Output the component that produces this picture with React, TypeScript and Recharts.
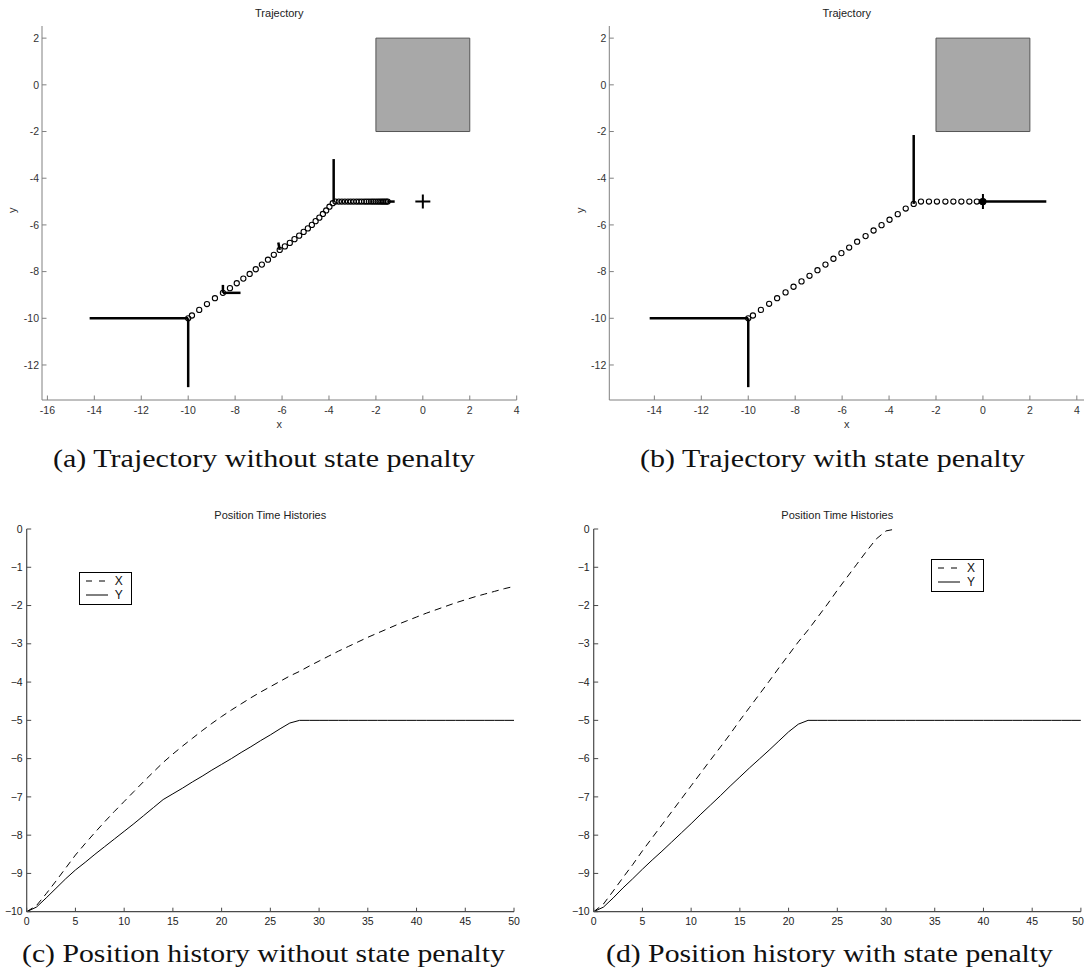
import React from 'react';
import {
  ScatterChart, Scatter, XAxis, YAxis, ReferenceLine, ReferenceArea,
  LineChart, Line, Legend,
} from 'recharts';

// ---------------- DATA ----------------
const timeSteps = [
  0, 1, 2, 3, 4, 5, 6, 7, 8, 9, 10, 11, 12, 13, 14, 15, 16, 17, 18, 19, 20,
  21, 22, 23, 24, 25, 26, 27, 28, 29, 30, 31, 32, 33, 34, 35, 36, 37, 38, 39, 40,
  41, 42, 43, 44, 45, 46, 47, 48, 49, 50,
];

// without state penalty (panels a, c)
const posXNoPenalty = [
  -10.0, -9.84, -9.53, -9.2, -8.86, -8.52, -8.22, -7.93, -7.65, -7.38,
  -7.12, -6.86, -6.6, -6.35, -6.1, -5.88, -5.67, -5.47, -5.27, -5.08,
  -4.9, -4.73, -4.57, -4.41, -4.26, -4.12, -3.98, -3.84, -3.72, -3.58,
  -3.45, -3.32, -3.19, -3.07, -2.95, -2.83, -2.72, -2.61, -2.5, -2.4,
  -2.3, -2.2, -2.11, -2.02, -1.93, -1.85, -1.77, -1.7, -1.63, -1.56, -1.5,
];
const posYNoPenalty = [
  -10.0, -9.88, -9.64, -9.39, -9.14, -8.91, -8.71, -8.5, -8.3, -8.1,
  -7.9, -7.7, -7.49, -7.28, -7.07, -6.92, -6.77, -6.61, -6.46, -6.3,
  -6.15, -6.0, -5.84, -5.69, -5.53, -5.38, -5.22, -5.07, -5.0, -5.0,
  -5.0, -5.0, -5.0, -5.0, -5.0, -5.0, -5.0, -5.0, -5.0, -5.0,
  -5.0, -5.0, -5.0, -5.0, -5.0, -5.0, -5.0, -5.0, -5.0, -5.0, -5.0,
];

// with state penalty (panels b, d)
const posXPenalty = [
  -10.0, -9.8, -9.46, -9.11, -8.77, -8.41, -8.07, -7.73, -7.39, -7.05,
  -6.71, -6.37, -6.03, -5.7, -5.36, -5.0, -4.66, -4.32, -3.98, -3.63,
  -3.29, -2.95, -2.64, -2.3, -1.96, -1.6, -1.26, -0.92, -0.58, -0.26,
  -0.05, 0.0, null, null, null, null, null, null, null, null,
  null, null, null, null, null, null, null, null, null, null, null,
];
const posYPenalty = [
  -10.0, -9.88, -9.64, -9.38, -9.14, -8.89, -8.65, -8.42, -8.18, -7.94,
  -7.7, -7.45, -7.21, -6.97, -6.72, -6.48, -6.24, -6.01, -5.78, -5.54,
  -5.3, -5.1, -5.0, -5.0, -5.0, -5.0, -5.0, -5.0, -5.0, -5.0,
  -5.0, -5.0, -5.0, -5.0, -5.0, -5.0, -5.0, -5.0, -5.0, -5.0,
  -5.0, -5.0, -5.0, -5.0, -5.0, -5.0, -5.0, -5.0, -5.0, -5.0, -5.0,
];

// obstacle and target
const obstacle = { x1: -2, x2: 2, y1: -2, y2: 2 };
const targetPoint = [{ x: 0, y: -5 }];

// thrust / control vectors drawn on the trajectories
const thrustNoPenalty = [
  { x1: -10, y1: -10, x2: -14.2, y2: -10 },
  { x1: -10, y1: -10, x2: -10, y2: -12.95 },
  { x1: -8.52, y1: -8.91, x2: -8.52, y2: -8.57 },
  { x1: -8.52, y1: -8.91, x2: -7.77, y2: -8.91 },
  { x1: -6.1, y1: -7.07, x2: -6.16, y2: -6.75 },
  { x1: -3.8, y1: -5.0, x2: -3.8, y2: -3.18 },
  { x1: -1.5, y1: -5.0, x2: -1.2, y2: -5.0 },
];
const thrustPenalty = [
  { x1: -10, y1: -10, x2: -14.2, y2: -10 },
  { x1: -10, y1: -10, x2: -10, y2: -12.95 },
  { x1: -2.95, y1: -5.1, x2: -2.95, y2: -2.15 },
  { x1: 0, y1: -5.0, x2: 2.7, y2: -5.0 },
];

// tick labels
const trajXTicksA = [-16, -14, -12, -10, -8, -6, -4, -2, 0, 2, 4];
const trajXTicksB = [-14, -12, -10, -8, -6, -4, -2, 0, 2, 4];
const trajYTicks = [-12, -10, -8, -6, -4, -2, 0, 2];
const timeTicks = [0, 5, 10, 15, 20, 25, 30, 35, 40, 45, 50];
const posTicks = [-10, -9, -8, -7, -6, -5, -4, -3, -2, -1, 0];

const seriesStyles = [
  { key: 'X', dash: '7 5' },
  { key: 'Y', dash: undefined as string | undefined },
];

const captions = [
  { text: '(a) Trajectory without state penalty', x: 53, y: 467, len: 422 },
  { text: '(b) Trajectory with state penalty', x: 640, y: 467, len: 385 },
  { text: '(c) Position history without state penalty', x: 22, y: 962, len: 483 },
  { text: '(d) Position history with state penalty', x: 606, y: 962, len: 447 },
];

// ---------------- HELPERS ----------------
const SANS = '"Liberation Sans", Arial, Helvetica, sans-serif';
const SERIF = '"Liberation Serif", "Times New Roman", serif';

const hyphenFmt = (v: number) => String(v);
const minusFmt = (v: number) => (v < 0 ? '\u2212' + Math.abs(v) : String(v));

function bottomTick(len: number, axisColor: string, textColor: string, fontSize: number, off: number, fmt: (v: number) => string, maxTextX?: number) {
  return (props: any) => {
    const { x, y, payload } = props;
    const tx = maxTextX !== undefined ? Math.min(x, maxTextX) : x;
    return (
      <g>
        <line x1={x} y1={y} x2={x} y2={y - len} stroke={axisColor} strokeWidth={1} />
        <text x={tx} y={y + off} dy="0.71em" textAnchor="middle" fontSize={fontSize} fontFamily={SANS} fill={textColor}>
          {fmt(payload.value)}
        </text>
      </g>
    );
  };
}

function leftTick(len: number, axisColor: string, textColor: string, fontSize: number, gap: number, fmt: (v: number) => string) {
  return (props: any) => {
    const { x, y, payload } = props;
    return (
      <g>
        <line x1={x} y1={y} x2={x + len} y2={y} stroke={axisColor} strokeWidth={1} />
        <text x={x - gap} y={y} dy="0.35em" textAnchor="end" fontSize={fontSize} fontFamily={SANS} fill={textColor}>
          {fmt(payload.value)}
        </text>
      </g>
    );
  };
}

const OpenCircle = (p: any) => (
  <circle cx={p.cx} cy={p.cy} r={2.6} fill="none" stroke="#000" strokeWidth={1.1} />
);
const FilledDot = (p: any) => (
  <g>
    <circle cx={p.cx} cy={p.cy} r={3.6} fill="#000" />
    <line x1={p.cx} y1={p.cy - 7.5} x2={p.cx} y2={p.cy + 7.5} stroke="#000" strokeWidth={2} />
  </g>
);
const PlusMark = (p: any) => (
  <g>
    <line x1={p.cx - 7.5} y1={p.cy} x2={p.cx + 7.5} y2={p.cy} stroke="#000" strokeWidth={2} />
    <line x1={p.cx} y1={p.cy - 7} x2={p.cx} y2={p.cy + 7} stroke="#000" strokeWidth={2} />
  </g>
);

const TRAJ_AXIS = '#808080';
const TRAJ_TEXT = '#333';
const HIST_AXIS = '#4a4a4a';
const HIST_TEXT = '#222';

// ---------------- TRAJECTORY PANEL ----------------
function TrajectoryPanel(props: {
  left: number; top: number; width: number; height: number;
  yAxisWidth: number; marginRight: number;
  xDomain: [number, number]; xTicks: number[];
  xs: (number | null)[]; ys: number[];
  thrust: { x1: number; y1: number; x2: number; y2: number }[];
  variant: 'a' | 'b'; yLabelOffset: number;
}) {
  const pts = props.xs
    .map((x, i) => ({ x, y: props.ys[i] }))
    .filter((p) => p.x !== null) as { x: number; y: number }[];
  const endPoint = props.variant === 'b' ? [pts[pts.length - 1]] : [];
  return (
    <div style={{ position: 'absolute', left: props.left, top: props.top }}>
      <ScatterChart
        width={props.width}
        height={props.height}
        margin={{ top: 26, right: props.marginRight, bottom: 0, left: 0 }}
      >
        <XAxis
          type="number"
          dataKey="x"
          domain={props.xDomain}
          allowDataOverflow
          ticks={props.xTicks}
          interval={0}
          height={40}
          tickLine={false}
          tickSize={0}
          tickMargin={0}
          axisLine={{ stroke: TRAJ_AXIS, strokeWidth: 1 }}
          tick={bottomTick(4.5, TRAJ_AXIS, TRAJ_TEXT, 10.5, 7, hyphenFmt)}
          label={{ value: 'x', position: 'insideBottom', offset: 12, fontSize: 11, fontFamily: SANS, fill: TRAJ_TEXT }}
        />
        <YAxis
          type="number"
          dataKey="y"
          domain={[-13.5, 2.52]}
          allowDataOverflow
          ticks={trajYTicks}
          interval={0}
          width={props.yAxisWidth}
          tickLine={false}
          tickSize={0}
          tickMargin={0}
          axisLine={{ stroke: TRAJ_AXIS, strokeWidth: 1 }}
          tick={leftTick(4.5, TRAJ_AXIS, TRAJ_TEXT, 10.5, 3, hyphenFmt)}
          label={{ value: 'y', angle: -90, position: 'insideLeft', offset: props.yLabelOffset, fontSize: 11, fontFamily: SANS, fill: TRAJ_TEXT }}
        />
        <ReferenceArea
          x1={obstacle.x1} x2={obstacle.x2} y1={obstacle.y1} y2={obstacle.y2}
          fill="#a8a8a8" fillOpacity={1} stroke="#555" strokeWidth={1}
        />
        <Scatter data={pts} shape={OpenCircle} isAnimationActive={false} />
        {props.variant === 'a' ? (
          <Scatter data={targetPoint} shape={PlusMark} isAnimationActive={false} />
        ) : (
          <Scatter data={endPoint} shape={FilledDot} isAnimationActive={false} />
        )}
        {props.thrust.map((s, i) => (
          <ReferenceLine
            key={i}
            segment={[{ x: s.x1, y: s.y1 }, { x: s.x2, y: s.y2 }]}
            stroke="#000"
            strokeWidth={2.5}
            ifOverflow="visible"
          />
        ))}
      </ScatterChart>
    </div>
  );
}

// ---------------- HISTORY PANEL ----------------
function HistoryLegend(props: any) {
  const payload = props.payload || [];
  return (
    <div
      style={{
        boxSizing: 'border-box', width: 53, height: 33, border: '1.5px solid #000',
        background: '#fff', fontFamily: SANS, fontSize: 12, color: '#111',
        paddingTop: 1, paddingLeft: 6,
      }}
    >
      {payload.map((e: any) => {
        const st = seriesStyles.find((s) => s.key === e.value);
        return (
          <div key={e.value} style={{ display: 'flex', alignItems: 'center', height: 14 }}>
            <svg width={22} height={10} style={{ display: 'block' }}>
              <line x1={0} y1={5} x2={22} y2={5} stroke="#000" strokeWidth={1} strokeDasharray={st && st.dash ? '6 7' : undefined} />
            </svg>
            <span style={{ marginLeft: 7, lineHeight: '14px' }}>{e.value}</span>
          </div>
        );
      })}
    </div>
  );
}

function HistoryPanel(props: {
  left: number; top: number; width: number; height: number;
  yAxisWidth: number; marginRight: number;
  xs: (number | null)[]; ys: number[];
  legendLeft: number; legendTop: number;
}) {
  const data = timeSteps.map((t, i) => ({ t, X: props.xs[i], Y: props.ys[i] }));
  return (
    <div style={{ position: 'absolute', left: props.left, top: props.top }}>
      <LineChart
        width={props.width}
        height={props.height}
        data={data}
        margin={{ top: 49, right: props.marginRight, bottom: 0, left: 0 }}
      >
        <XAxis
          type="number"
          dataKey="t"
          domain={[0, 50]}
          allowDataOverflow
          ticks={timeTicks}
          interval={0}
          height={28.3}
          tickLine={false}
          tickSize={0}
          tickMargin={0}
          axisLine={{ stroke: HIST_AXIS, strokeWidth: 1.2 }}
          tick={bottomTick(4, HIST_AXIS, HIST_TEXT, 10.5, 5.5, hyphenFmt, props.width - 7)}
        />
        <YAxis
          type="number"
          domain={[-10, 0]}
          allowDataOverflow
          ticks={posTicks}
          interval={0}
          width={props.yAxisWidth}
          tickLine={false}
          tickSize={0}
          tickMargin={0}
          axisLine={{ stroke: HIST_AXIS, strokeWidth: 1.2 }}
          tick={leftTick(4.5, HIST_AXIS, HIST_TEXT, 10.5, 4, minusFmt)}
        />
        {seriesStyles.map((s) => (
          <Line
            key={s.key}
            type="linear"
            dataKey={s.key}
            name={s.key}
            stroke="#000"
            strokeWidth={1}
            strokeDasharray={s.dash}
            dot={false}
            activeDot={false}
            connectNulls={false}
            isAnimationActive={false}
          />
        ))}
        <Legend
          layout="vertical"
          align="center"
          verticalAlign="middle"
          content={HistoryLegend}
          wrapperStyle={{ left: props.legendLeft, top: props.legendTop, width: 53, height: 33 }}
        />
      </LineChart>
    </div>
  );
}

// ---------------- APP ----------------
export default function App() {
  return (
    <div style={{ position: 'absolute', left: 0, top: 0, width: 1085, height: 974, background: '#fff', overflow: 'hidden' }}>
      <TrajectoryPanel
        left={0} top={0} width={540} height={440}
        yAxisWidth={42} marginRight={23.3}
        xDomain={[-16.23, 4]} xTicks={trajXTicksA}
        xs={posXNoPenalty} ys={posYNoPenalty}
        thrust={thrustNoPenalty} variant="a" yLabelOffset={12}
      />
      <TrajectoryPanel
        left={560} top={0} width={525} height={440}
        yAxisWidth={49.3} marginRight={1}
        xDomain={[-15.92, 4.306]} xTicks={trajXTicksB}
        xs={posXPenalty} ys={posYPenalty}
        thrust={thrustPenalty} variant="b" yLabelOffset={20}
      />
      <HistoryPanel
        left={0} top={480} width={540} height={460}
        yAxisWidth={26.7} marginRight={26}
        xs={posXNoPenalty} ys={posYNoPenalty}
        legendLeft={78.7} legendTop={92.3}
      />
      <HistoryPanel
        left={560} top={480} width={525} height={460}
        yAxisWidth={33.7} marginRight={4.1}
        xs={posXPenalty} ys={posYPenalty}
        legendLeft={371} legendTop={78.7}
      />
      <svg width={1085} height={974} style={{ position: 'absolute', left: 0, top: 0, pointerEvents: 'none' }}>
        <text x={279.3} y={17} textAnchor="middle" fontSize={11} fontFamily={SANS} fill="#222">Trajectory</text>
        <text x={846.7} y={17} textAnchor="middle" fontSize={11} fontFamily={SANS} fill="#222">Trajectory</text>
        <text x={270.3} y={519} textAnchor="middle" fontSize={11} fontFamily={SANS} fill="#222">Position Time Histories</text>
        <text x={837.3} y={519} textAnchor="middle" fontSize={11} fontFamily={SANS} fill="#222">Position Time Histories</text>
        {captions.map((c) => (
          <text key={c.text} x={c.x} y={c.y} fontSize={26} fontFamily={SERIF} fill="#111"
            textLength={c.len} lengthAdjust="spacingAndGlyphs">
            {c.text}
          </text>
        ))}
      </svg>
    </div>
  );
}
